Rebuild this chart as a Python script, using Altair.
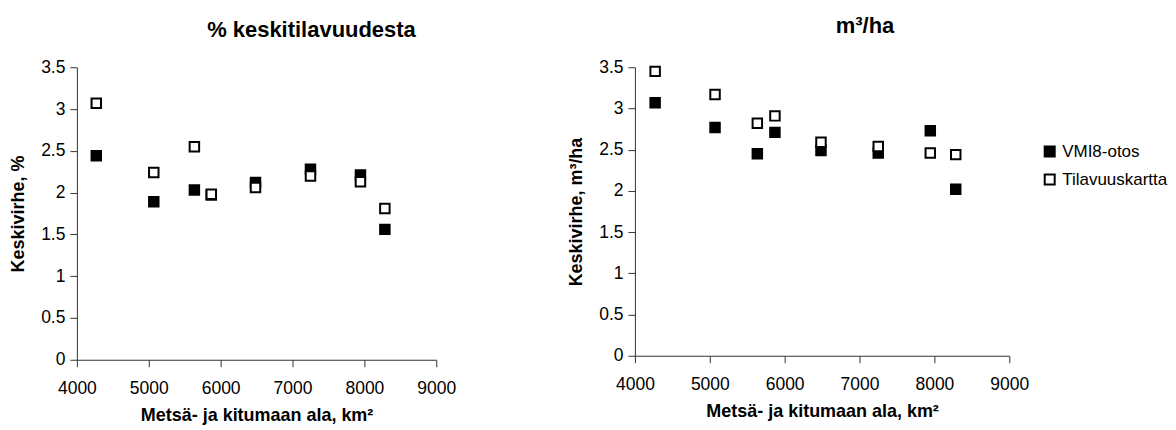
import altair as alt
import pandas as pd

area = [4270, 5070, 5635, 5870, 6485, 7250, 7945, 8285]
pct_vmi = [2.44, 1.89, 2.03, 1.97, 2.12, 2.28, 2.21, 1.56]
pct_map = [3.07, 2.24, 2.55, 1.98, 2.06, 2.20, 2.13, 1.81]
m3_vmi = [3.07, 2.77, 2.45, 2.71, 2.49, 2.46, 2.73, 2.02]
m3_map = [3.45, 3.17, 2.82, 2.91, 2.59, 2.54, 2.46, 2.44]
series = ["VMI8-otos", "Tilavuuskartta"]
x_ticks = [4000, 5000, 6000, 7000, 8000, 9000]
y_ticks = [0, 0.5, 1, 1.5, 2, 2.5, 3, 3.5]

FONT = "Liberation Sans"


def frame(vmi, mp):
    rows = []
    for a, v in zip(area, vmi):
        rows.append({"ala": a, "val": v, "sarja": series[0]})
    for a, v in zip(area, mp):
        rows.append({"ala": a, "val": v, "sarja": series[1]})
    return pd.DataFrame(rows)


legend = alt.Legend(title=None, orient="none", legendX=966, legendY=76,
                    symbolType="square", symbolSize=100, symbolStrokeWidth=2,
                    symbolStrokeColor="black", labelFontSize=17, labelFont=FONT,
                    labelColor="black", rowPadding=9, labelOffset=4, padding=0,
                    labelLimit=0)


def panel(df, title, ytitle, w, h, dx, toff):
    return alt.Chart(df).mark_point(
        shape="square", size=90, strokeWidth=2, opacity=1, filled=False
    ).encode(
        x=alt.X("ala:Q", scale=alt.Scale(domain=[4000, 9000], nice=False, zero=False, padding=0),
                axis=alt.Axis(values=x_ticks, format="d",
                              title="Metsä- ja kitumaan ala, km²")),
        y=alt.Y("val:Q", scale=alt.Scale(domain=[0, 3.5], nice=False, padding=0),
                axis=alt.Axis(values=y_ticks, labelExpr="toString(datum.value)",
                              title=ytitle)),
        fill=alt.Fill("sarja:N", scale=alt.Scale(domain=series, range=["black", "white"]),
                      legend=legend),
        stroke=alt.value("black"),
    ).properties(
        width=w, height=h,
        title=alt.TitleParams(title, dx=dx, fontSize=22, font=FONT, fontWeight="bold",
                              anchor="middle", offset=toff, color="black"),
    )


left = panel(frame(pct_vmi, pct_map), "% keskitilavuudesta", "Keskivirhe, %",
             360, 293, 55, 16)
right = panel(frame(m3_vmi, m3_map), "m³/ha", "Keskivirhe, m³/ha",
              375, 289, 43, 20)

chart = alt.hconcat(left, right, spacing=111).properties(
    padding={"left": 1, "top": 7, "right": 0, "bottom": 0}
).configure_axis(
    grid=False, labelFlush=False, labelOverlap=False,
    labelFont=FONT, labelFontSize=17.5, labelColor="black",
    titleFont=FONT, titleFontSize=18, titleFontWeight="bold", titleColor="black",
    domainColor="#333", tickColor="#333", tickSize=7,
).configure_axisX(labelPadding=13, titlePadding=9
).configure_axisY(labelPadding=5, titlePadding=13
).configure_view(stroke=None)

chart.save("out.html", embed_options={"renderer": "svg", "actions": False})
